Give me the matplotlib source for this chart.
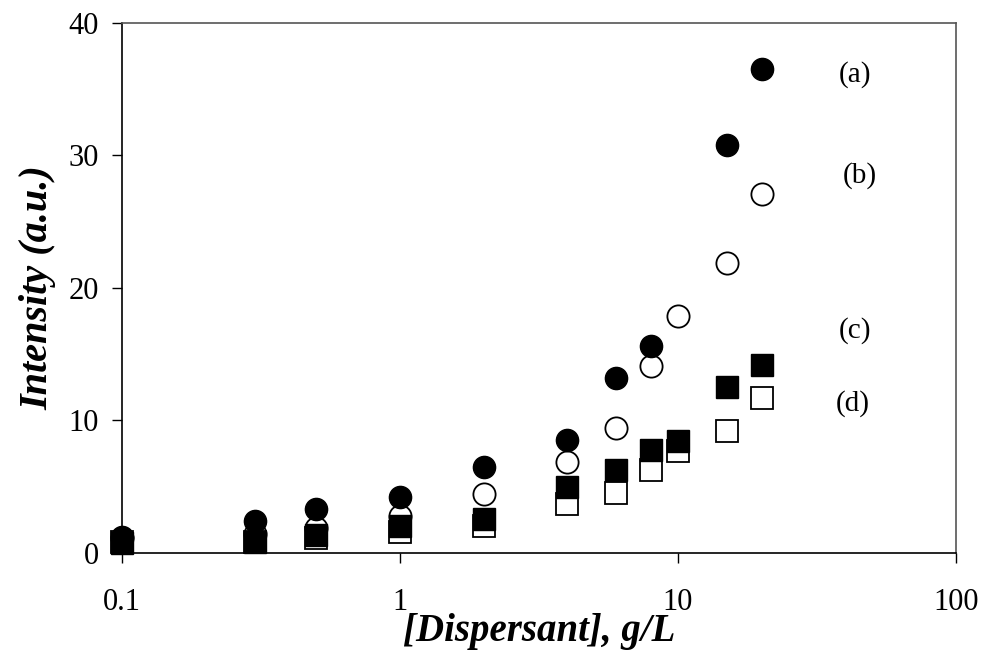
import numpy as np
import matplotlib
matplotlib.use("Agg")
import matplotlib.pyplot as plt
from matplotlib.ticker import FixedLocator, NullLocator, FixedFormatter

plt.rcParams['font.family'] = ['Liberation Serif', 'DejaVu Serif']

# dispersant concentration, g/L
conc = [0.1, 0.3, 0.5, 1, 2, 4, 6, 8, 10, 15, 20]
# intensities (a.u.); series (a) has no point at 10 g/L
series_a = [1.2, 2.4, 3.3, 4.2, 6.5, 8.5, 13.2, 15.6, np.nan, 30.8, 36.5]
series_b = [1.1, 1.4, 1.9, 2.8, 4.45, 6.9, 9.4, 14.1, 17.9, 21.9, 27.1]
series_c = [0.75, 0.85, 1.35, 2.0, 2.6, 5.0, 6.3, 7.8, 8.45, 12.5, 14.2]
series_d = [0.8, 0.8, 1.15, 1.6, 2.0, 3.7, 4.5, 6.3, 7.7, 9.2, 11.7]

labels = ['(a)', '(b)', '(c)', '(d)']
label_x = [43.3, 45.2, 43.3, 42.6]
label_y = [36.1, 28.5, 16.8, 11.3]

xticks = [0.1, 1, 10, 100]
xticklabels = ['0.1', '1', '10', '100']
yticks = [0, 10, 20, 30, 40]

fig = plt.figure(figsize=(9.82, 6.57), dpi=100)
ax = fig.add_axes([0.1242, 0.1583, 0.8493, 0.8067])

ms = 16
ax.plot(conc, series_b, 'o', ms=ms, mfc='white', mec='black', mew=1.3, zorder=2, clip_on=False)
ax.plot(conc, series_d, 's', ms=ms, mfc='white', mec='black', mew=1.3, zorder=3, clip_on=False)
ax.plot(conc, series_c, 's', ms=ms, mfc='black', mec='black', mew=1.0, zorder=4, clip_on=False)
ax.plot(conc, series_a, 'o', ms=ms, mfc='black', mec='black', mew=1.0, zorder=5, clip_on=False)

for lab, lx, ly in zip(labels, label_x, label_y):
    ax.text(lx, ly, lab, fontsize=21, ha='center', va='center')

ax.set_xscale('log')
ax.set_xlim(0.1, 100)
ax.set_ylim(0, 40)
ax.xaxis.set_major_locator(FixedLocator(xticks))
ax.xaxis.set_major_formatter(FixedFormatter(xticklabels))
ax.xaxis.set_minor_locator(NullLocator())
ax.set_yticks(yticks)

ax.tick_params(axis='both', direction='out', length=7.5, width=1.0, labelsize=22)
ax.tick_params(axis='x', pad=18)
ax.tick_params(axis='y', pad=9)

for side in ['left', 'bottom']:
    ax.spines[side].set_color('black')
    ax.spines[side].set_linewidth(1.2)
for side in ['top', 'right']:
    ax.spines[side].set_color('#555555')
    ax.spines[side].set_linewidth(1.2)

ax.set_xlabel('[Dispersant], g/L', fontsize=28, fontweight='bold', fontstyle='italic', labelpad=-3)
ax.set_ylabel('Intensity (a.u.)', fontsize=29, fontweight='bold', fontstyle='italic', labelpad=9)

fig.savefig('out.png', dpi=100)
